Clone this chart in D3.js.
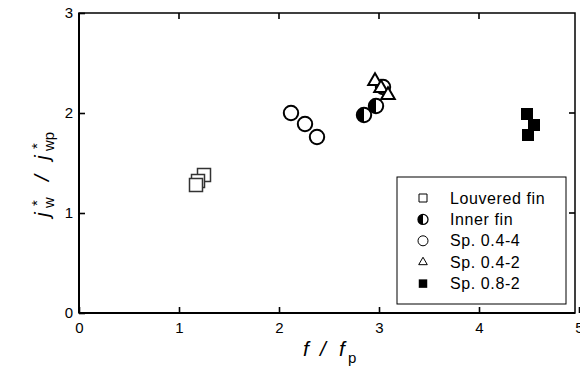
<!DOCTYPE html>
<html>
<head>
<meta charset="utf-8">
<script src="https://cdn.jsdelivr.net/npm/d3@7/dist/d3.min.js"></script>
<style>
  html, body { margin: 0; padding: 0; background: #fff; }
  svg { display: block; font-family: "Liberation Sans", Arial, sans-serif; }
</style>
</head>
<body>
<svg id="chart" width="580" height="370"></svg>
<script>
// ---- data ----
const xTicks = [0, 1, 2, 3, 4, 5];
const yTicks = [0, 1, 2, 3];
const seriesNames = ["Louvered fin", "Inner fin", "Sp. 0.4-4", "Sp. 0.4-2", "Sp. 0.8-2"];
const louveredX = [1.25, 1.19, 1.17];
const louveredY = [1.38, 1.32, 1.28];
const innerX = [2.85, 2.97];
const innerY = [1.98, 2.07];
const sp44X = [2.12, 2.26, 2.38, 3.04];
const sp44Y = [2.00, 1.89, 1.76, 2.26];
const sp42X = [2.96, 3.02, 3.09];
const sp42Y = [2.32, 2.25, 2.18];
const sp82X = [4.48, 4.55, 4.49];
const sp82Y = [1.99, 1.88, 1.78];

const zip = (xs, ys) => xs.map((v, i) => ({ x: v, y: ys[i] }));

const svg = d3.select("#chart");
const L = 79, T = 13, B = 313, R = 575;
const x = d3.scaleLinear().domain([0, 5]).range([L, L + 500]);
const y = d3.scaleLinear().domain([0, 3]).range([B, T]);

// frame
svg.append("rect").attr("x", L).attr("y", T).attr("width", R - L).attr("height", B - T)
  .attr("fill", "none").attr("stroke", "#000").attr("stroke-width", 1.5);

// axes
const xAxis = d3.axisBottom(x).tickValues(xTicks).tickFormat(d3.format("d"))
  .tickSizeInner(-6).tickSizeOuter(0).tickPadding(9);
const gx = svg.append("g").attr("transform", `translate(0,${B})`).call(xAxis);
gx.select(".domain").remove();
svg.append("line").attr("x1", L).attr("x2", R).attr("y1", B).attr("y2", B)
  .attr("stroke", "#000").attr("stroke-width", 2);
gx.selectAll("line").attr("stroke-width", 1.6);
gx.selectAll("text").attr("font-size", 15).attr("fill", "#000")
  .style("font-family", '"Liberation Sans", Arial, sans-serif');

const yAxis = d3.axisLeft(y).tickValues(yTicks).tickFormat(d3.format("d"))
  .tickSizeInner(-6).tickSizeOuter(0).tickPadding(6);
const gy = svg.append("g").attr("transform", `translate(${L},0)`).call(yAxis);
gy.select(".domain").remove();
svg.append("line").attr("x1", L).attr("x2", L).attr("y1", T).attr("y2", B)
  .attr("stroke", "#000").attr("stroke-width", 2);
gy.selectAll("line").attr("stroke-width", 1.6);
gy.selectAll("text").attr("font-size", 15).attr("fill", "#000")
  .style("font-family", '"Liberation Sans", Arial, sans-serif');

// mirrored ticks (right and top)
svg.append("g").selectAll("line").data(yTicks.filter(d => d > 0 && d < 3)).join("line")
  .attr("x1", R).attr("x2", R - 6).attr("y1", d => y(d)).attr("y2", d => y(d))
  .attr("stroke", "#000").attr("stroke-width", 1.6);
svg.append("g").selectAll("line").data(xTicks.filter(d => d > 0 && d < 5)).join("line")
  .attr("x1", d => x(d)).attr("x2", d => x(d)).attr("y1", T).attr("y2", T + 6)
  .attr("stroke", "#000").attr("stroke-width", 1.6);

// markers
const g = svg.append("g");
const sq = d3.symbol().type(d3.symbolSquare);
const tri = d3.symbol().type(d3.symbolTriangle);

// louvered fin: open squares
g.selectAll(".lv").data(zip(louveredX, louveredY)).join("path")
  .attr("transform", d => `translate(${x(d.x)},${y(d.y)})`)
  .attr("d", sq.size(13 * 13)())
  .attr("fill", "#fff").attr("stroke", "#333").attr("stroke-width", 1.5);

// Sp 0.4-4: open circles
g.selectAll(".c44").data(zip(sp44X, sp44Y)).join("circle")
  .attr("cx", d => x(d.x)).attr("cy", d => y(d.y)).attr("r", 7.2)
  .attr("fill", "#fff").attr("stroke", "#000").attr("stroke-width", 2);

// Sp 0.4-2: open triangles
g.selectAll(".t42").data(zip(sp42X, sp42Y)).join("path")
  .attr("transform", d => `translate(${x(d.x)},${y(d.y)})`)
  .attr("d", tri.size(80)())
  .attr("fill", "#fff").attr("stroke", "#000").attr("stroke-width", 2).attr("stroke-linejoin", "miter");

// Inner fin: half-filled circles
const halfArc = d3.arc().innerRadius(0).startAngle(Math.PI).endAngle(2 * Math.PI);
const inG = g.selectAll(".inner").data(zip(innerX, innerY)).join("g")
  .attr("transform", d => `translate(${x(d.x)},${y(d.y)})`);
inG.append("circle").attr("r", 7.2).attr("fill", "#fff");
inG.append("path").attr("d", halfArc.outerRadius(7.2)()).attr("fill", "#000");
inG.append("circle").attr("r", 7.2).attr("fill", "none").attr("stroke", "#000").attr("stroke-width", 2);

// Sp 0.8-2: filled squares
g.selectAll(".s82").data(zip(sp82X, sp82Y)).join("path")
  .attr("transform", d => `translate(${x(d.x)},${y(d.y)})`)
  .attr("d", sq.size(12 * 12)())
  .attr("fill", "#000").attr("stroke", "none");

// legend
const lg = svg.append("g");
lg.append("rect").attr("x", 397).attr("y", 177).attr("width", 169).attr("height", 127)
  .attr("fill", "#fff").attr("stroke", "#000").attr("stroke-width", 1);
const rowY = i => 198 + i * 21.4;
const sx = 423;
seriesNames.forEach((name, i) => {
  const cy = rowY(i);
  const s = lg.append("g").attr("transform", `translate(${sx},${cy})`);
  if (i === 0) s.append("path").attr("d", sq.size(64)()).attr("fill", "#fff").attr("stroke", "#000").attr("stroke-width", 1);
  if (i === 1) {
    s.append("path").attr("d", halfArc.outerRadius(5)()).attr("fill", "#000");
    s.append("circle").attr("r", 5).attr("fill", "none").attr("stroke", "#000").attr("stroke-width", 1.3);
  }
  if (i === 2) s.append("circle").attr("r", 5).attr("fill", "#fff").attr("stroke", "#000").attr("stroke-width", 1);
  if (i === 3) s.append("path").attr("d", tri.size(32)()).attr("fill", "#fff").attr("stroke", "#000").attr("stroke-width", 1);
  if (i === 4) s.append("path").attr("d", sq.size(72)()).attr("fill", "#000");
  lg.append("text").attr("x", 450).attr("y", cy + 5.5).attr("font-size", 16)
    .attr("letter-spacing", "0.6px").attr("fill", "#000").text(name);
});

// x axis title: f / f_p
const xt = svg.append("g").attr("font-size", 21).attr("fill", "#000");
xt.append("text").attr("x", 303).attr("y", 356).attr("font-style", "italic").text("f");
xt.append("text").attr("x", 320).attr("y", 356).attr("font-style", "italic").text("/");
xt.append("text").attr("x", 339).attr("y", 356).attr("font-style", "italic").text("f");
xt.append("text").attr("x", 348).attr("y", 363).attr("font-size", 15).text("p");

// y axis title: j*_w / j*_wp (rotated)
const yt = svg.append("g").attr("transform", "rotate(-90)").attr("fill", "#000");
yt.append("text").attr("x", -217).attr("y", 49).attr("font-size", 21).attr("font-style", "italic").text("j");
yt.append("text").attr("x", -206).attr("y", 42).attr("font-size", 15).text("*");
yt.append("text").attr("x", -208).attr("y", 54).attr("font-size", 15).text("w");
yt.append("text").attr("x", -181).attr("y", 49).attr("font-size", 21).attr("font-style", "italic").text("/");
yt.append("text").attr("x", -160).attr("y", 49).attr("font-size", 21).attr("font-style", "italic").text("j");
yt.append("text").attr("x", -149).attr("y", 42).attr("font-size", 15).text("*");
yt.append("text").attr("x", -151).attr("y", 54).attr("font-size", 15).text("wp");
</script>
</body>
</html>
